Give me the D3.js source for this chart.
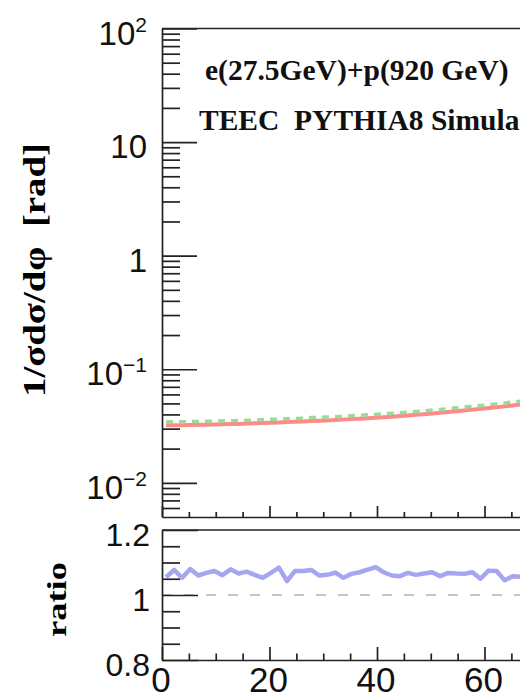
<!DOCTYPE html>
<html>
<head>
<meta charset="utf-8">
<script src="https://cdn.jsdelivr.net/npm/d3@7"></script>
<style>
  html, body { margin: 0; padding: 0; background: #fff; }
  svg { display: block; }
</style>
</head>
<body>
<script>
// ---------------- DATA ----------------
const phi = [0.75,2.25,3.75,5.25,6.75,8.25,9.75,11.25,12.75,14.25,15.75,17.25,18.75,20.25,21.75,
  23.25,24.75,26.25,27.75,29.25,30.75,32.25,33.75,35.25,36.75,38.25,39.75,41.25,42.75,44.25,
  45.75,47.25,48.75,50.25,51.75,53.25,54.75,56.25,57.75,59.25,60.75,62.25,63.75,65.25,66.75];

const teecRed = [0.0321,0.0322,0.0322,0.0323,0.0324,0.0325,0.0326,0.0328,0.0329,0.0330,0.0332,0.0334,
  0.0336,0.0338,0.0340,0.0343,0.0345,0.0347,0.0350,0.0352,0.0354,0.0357,0.0360,0.0364,0.0367,0.0371,
  0.0374,0.0378,0.0382,0.0387,0.0392,0.0397,0.0402,0.0408,0.0414,0.0420,0.0427,0.0434,0.0441,0.0448,
  0.0455,0.0463,0.0471,0.0480,0.0489];

const teecGreen = [0.0343,0.0345,0.0345,0.0346,0.0347,0.0348,0.0349,0.0351,0.0352,0.0353,0.0355,0.0357,
  0.0360,0.0362,0.0364,0.0367,0.0369,0.0371,0.0375,0.0377,0.0379,0.0382,0.0385,0.0389,0.0393,0.0397,
  0.0400,0.0404,0.0409,0.0414,0.0419,0.0425,0.0430,0.0437,0.0443,0.0449,0.0457,0.0464,0.0472,0.0479,
  0.0487,0.0495,0.0504,0.0514,0.0523];

const ratio = [1.055,1.077,1.053,1.080,1.060,1.068,1.074,1.061,1.079,1.066,1.072,1.062,1.053,1.068,
  1.084,1.043,1.074,1.074,1.077,1.060,1.062,1.069,1.053,1.065,1.070,1.078,1.086,1.070,1.060,1.058,
  1.068,1.062,1.066,1.070,1.058,1.068,1.066,1.065,1.070,1.050,1.075,1.074,1.045,1.058,1.056];

const xTickValues = [0, 20, 40, 60];
const xTickLabels = ["0", "20", "40", "60"];
const yTopTickValues = [0.01, 0.1, 1, 10, 100];
const yTopTickBase = ["10", "10", "1", "10", "10"];
const yTopTickExp = ["\u22122", "\u22121", "", "", "2"];
const yRatioTickValues = [0.8, 1.0, 1.2];
const yRatioTickLabels = ["0.8", "1", "1.2"];

// ---------------- LAYOUT ----------------
const W = 520, H = 699;
const left = 162;
const axisColor = "#222";
const svg = d3.select("body").append("svg").attr("width", W).attr("height", H);

const x = d3.scaleLinear().domain([0, 70]).range([left, left + 70 * 5.375]);
const yTop = d3.scaleLog().domain([0.005, 100]).range([517, 28.5]);
const yRat = d3.scaleLinear().domain([0.8, 1.2]).range([660, 530]);

// minor ticks
const xMinor = d3.range(0, 71, 5).filter(v => v % 20 !== 0);
const yTopMinor = [];
[-3, -2, -1, 0, 1].forEach(e => { for (let m = 2; m <= 9; m++) { const v = m * Math.pow(10, e); if (v > 0.005 && v < 100) yTopMinor.push(+v.toPrecision(3)); } });
const yRatMinor = [0.85, 0.9, 0.95, 1.05, 1.1, 1.15];

function styleAxis(g) {
  g.selectAll("path,line").attr("stroke", axisColor).attr("stroke-width", 1.7);
}

// ---------- reference dashed line in ratio ----------
svg.append("line")
  .attr("x1", x(0)).attr("x2", x(70))
  .attr("y1", yRat(1)).attr("y2", yRat(1))
  .attr("stroke", "#b4b4b4").attr("stroke-width", 1.5)
  .attr("stroke-dasharray", "10,12");

// ---------- curves ----------
const lineTop = (arr) => d3.line().x((d, i) => x(phi[i])).y(d => yTop(d))(arr);
svg.append("path").attr("d", lineTop(teecRed))
  .attr("fill", "none").attr("stroke", "#ff8a8a").attr("stroke-width", 4);
svg.append("path").attr("d", lineTop(teecGreen))
  .attr("fill", "none").attr("stroke", "#97dc97").attr("stroke-width", 3.5)
  .attr("stroke-dasharray", "7,6");

svg.append("path").attr("d", d3.line().x((d, i) => x(phi[i])).y(d => yRat(d))(ratio))
  .attr("fill", "none").attr("stroke", "#a6a6f0").attr("stroke-width", 4.5)
  .attr("stroke-linejoin", "round");

// ---------- upper panel axes ----------
svg.append("line").attr("x1", left).attr("x2", W).attr("y1", 28.5).attr("y2", 28.5)
  .attr("stroke", axisColor).attr("stroke-width", 1.7);

const gYTop = svg.append("g").attr("transform", `translate(${left},0)`)
  .call(d3.axisLeft(yTop).tickValues(yTopTickValues).tickSize(-35).tickSizeOuter(0).tickFormat(""));
styleAxis(gYTop);
const gYTopMin = svg.append("g").attr("transform", `translate(${left},0)`)
  .call(d3.axisLeft(yTop).tickValues(yTopMinor).tickSize(-18).tickFormat(""));
gYTopMin.select(".domain").remove();
styleAxis(gYTopMin);

const gXTop = svg.append("g").attr("transform", "translate(0,517)")
  .call(d3.axisBottom(x).tickValues(xTickValues).tickSize(-11).tickSizeOuter(0).tickFormat(""));
styleAxis(gXTop);
const gXTopMin = svg.append("g").attr("transform", "translate(0,517)")
  .call(d3.axisBottom(x).tickValues(xMinor).tickSize(-5).tickFormat(""));
gXTopMin.select(".domain").remove();
styleAxis(gXTopMin);

// y labels (upper)
yTopTickValues.forEach((v, i) => {
  const t = svg.append("text")
    .attr("x", 147).attr("y", yTop(v) + 16)
    .attr("text-anchor", "end")
    .attr("font-family", "'Liberation Sans', Arial, sans-serif")
    .attr("font-size", 33).attr("fill", "#111");
  t.append("tspan").text(yTopTickBase[i]);
  if (yTopTickExp[i]) {
    t.append("tspan").attr("font-size", 21).attr("dy", -13).text(yTopTickExp[i]);
  }
});

// ---------- lower panel axes ----------
svg.append("line").attr("x1", left).attr("x2", W).attr("y1", 530).attr("y2", 530)
  .attr("stroke", axisColor).attr("stroke-width", 1.7);

const gYRat = svg.append("g").attr("transform", `translate(${left},0)`)
  .call(d3.axisLeft(yRat).tickValues(yRatioTickValues).tickSize(-36).tickSizeOuter(0)
    .tickFormat((d, i) => yRatioTickLabels[i]));
styleAxis(gYRat);
gYRat.selectAll("text")
  .attr("x", -12).attr("dy", null).attr("dominant-baseline", null)
  .attr("y", 15)
  .attr("font-family", "'Liberation Sans', Arial, sans-serif")
  .attr("font-size", 32).attr("fill", "#111");
const gYRatMin = svg.append("g").attr("transform", `translate(${left},0)`)
  .call(d3.axisLeft(yRat).tickValues(yRatMinor).tickSize(-18).tickFormat(""));
gYRatMin.select(".domain").remove();
styleAxis(gYRatMin);

const gXRat = svg.append("g").attr("transform", "translate(0,660)")
  .call(d3.axisBottom(x).tickValues(xTickValues).tickSize(-13).tickSizeOuter(0)
    .tickFormat((d, i) => xTickLabels[i]));
styleAxis(gXRat);
gXRat.selectAll("text")
  .attr("y", 32).attr("dy", null).attr("x", -1.5)
  .attr("font-family", "'Liberation Sans', Arial, sans-serif")
  .attr("font-size", 35).attr("fill", "#111");
const gXRatMin = svg.append("g").attr("transform", "translate(0,660)")
  .call(d3.axisBottom(x).tickValues(xMinor).tickSize(-6.5).tickFormat(""));
gXRatMin.select(".domain").remove();
styleAxis(gXRatMin);

// ---------- titles ----------
svg.append("text")
  .attr("transform", "translate(44.5,270) rotate(-90)")
  .attr("text-anchor", "middle")
  .attr("font-family", "'Liberation Serif', 'Times New Roman', serif")
  .attr("font-weight", "bold").attr("font-size", 32)
  .attr("textLength", 254).attr("lengthAdjust", "spacingAndGlyphs")
  .style("white-space", "pre")
  .text("1/\u03c3d\u03c3/d\u03c6  [rad]");

svg.append("text")
  .attr("transform", "translate(66,599.5) rotate(-90)")
  .attr("text-anchor", "middle")
  .attr("font-family", "'Liberation Serif', 'Times New Roman', serif")
  .attr("font-weight", "bold").attr("font-size", 28)
  .attr("textLength", 75).attr("lengthAdjust", "spacingAndGlyphs")
  .text("ratio");

svg.append("text")
  .attr("x", 205).attr("y", 80)
  .attr("font-family", "'Liberation Serif', 'Times New Roman', serif")
  .attr("font-weight", "bold").attr("font-size", 29.5).attr("fill", "#111")
  .text("e(27.5GeV)+p(920 GeV)");

svg.append("text")
  .attr("x", 199).attr("y", 130)
  .attr("font-family", "'Liberation Serif', 'Times New Roman', serif")
  .attr("font-weight", "bold").attr("font-size", 29.5).attr("fill", "#111")
  .style("white-space", "pre")
  .text("TEEC  PYTHIA8 Simulation");
</script>
</body>
</html>
